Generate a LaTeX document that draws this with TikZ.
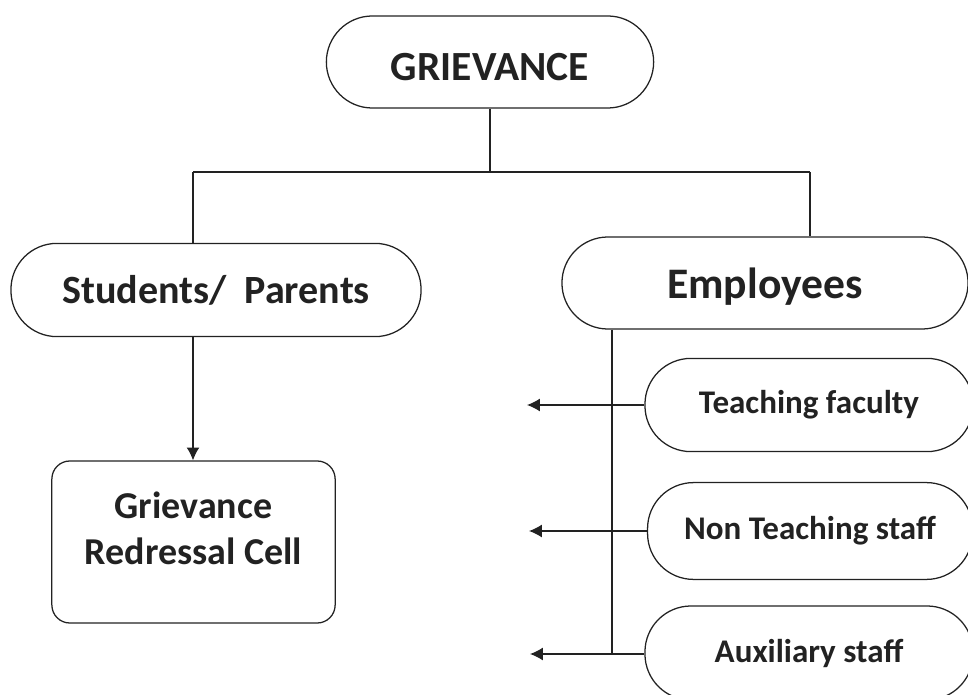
\documentclass[tikz,border=0pt]{standalone}
\usepackage{fontspec}
\setmainfont{Carlito}
\usepackage{xcolor}
\definecolor{gvink}{RGB}{34,34,34}
\usepackage{tikz}
\usetikzlibrary{arrows.meta, positioning}

\begin{document}
\begin{tikzpicture}[x=0.025cm, y=-0.025cm, line width=0.8pt, draw=gvink,
    pill/.style={draw=gvink, line width=0.9pt, rounded corners=46*0.025cm,
                 text=gvink, font=\bfseries, inner sep=0pt},
    cellbox/.style={draw=gvink, line width=0.9pt, rounded corners=0.45cm,
                    text=gvink, align=center, inner sep=0pt},
    tip/.style={-{Latex[length=3.2mm, width=3.2mm]}}]
  \useasboundingbox (0,0) rectangle (968,695);
  \clip (0,0) rectangle (968,695);

  % Top -- grievance
  \node[pill, minimum width=8.18cm, minimum height=2.3cm, text height=27pt,
        font=\bfseries\fontsize{29.5}{34}\selectfont] (griev) at (490,62) {GRIEVANCE};

  % Second row
  \node[pill, minimum width=10.25cm, minimum height=2.33cm,
        font=\bfseries\fontsize{28.5}{34}\selectfont] (stud) at (216,290) {Students/\ \ Parents};
  \node[pill, minimum width=10.15cm, minimum height=2.3cm, text depth=0pt,
        font=\bfseries\fontsize{31}{36}\selectfont] (emp) at (765,283) {Employees};

  % Redressal cell
  \node[cellbox, minimum width=7.08cm, minimum height=4.05cm,
        font=\bfseries\fontsize{27}{33}\selectfont] (cell) at (193.5,542)
        {Grievance\\Redressal Cell\rule[-0.7cm]{0pt}{0pt}};

  % Employee groups
  \node[pill, minimum width=8.2cm, minimum height=2.33cm,
        font=\bfseries\fontsize{23.5}{28}\selectfont] (teach) at (809,405) {Teaching faculty};
  \node[pill, minimum width=8.12cm, minimum height=2.42cm,
        font=\bfseries\fontsize{23.5}{28}\selectfont] (nonteach) at (810,531) {Non Teaching staff};
  \node[pill, minimum width=8.2cm, minimum height=2.35cm,
        font=\bfseries\fontsize{23.5}{28}\selectfont] (aux) at (809,653) {Auxiliary staff};

  % Tree lines
  \coordinate (split) at (griev.south |- 0,172);
  \draw (griev.south) -- (split);
  \draw (193,172) -- (810,172);
  \draw (193,172) -- (193,172 |- stud.north);
  \draw (810,172) -- (810,172 |- emp.north);
  \draw[tip] (stud.south -| 193,0) -- (cell.north -| 193,0);

  % Employees trunk and arrows
  \coordinate (trunk) at (612,654);
  \draw (emp.south -| trunk) -- (trunk);
  \coordinate (endt) at (527,405);
  \coordinate (endn) at (529,531);
  \coordinate (enda) at (530,654);
  \draw[tip] (teach.west) -- (endt);
  \draw[tip] (nonteach.west) -- (endn);
  \draw[tip] (aux.west |- trunk) -- (enda);
\end{tikzpicture}
\end{document}
